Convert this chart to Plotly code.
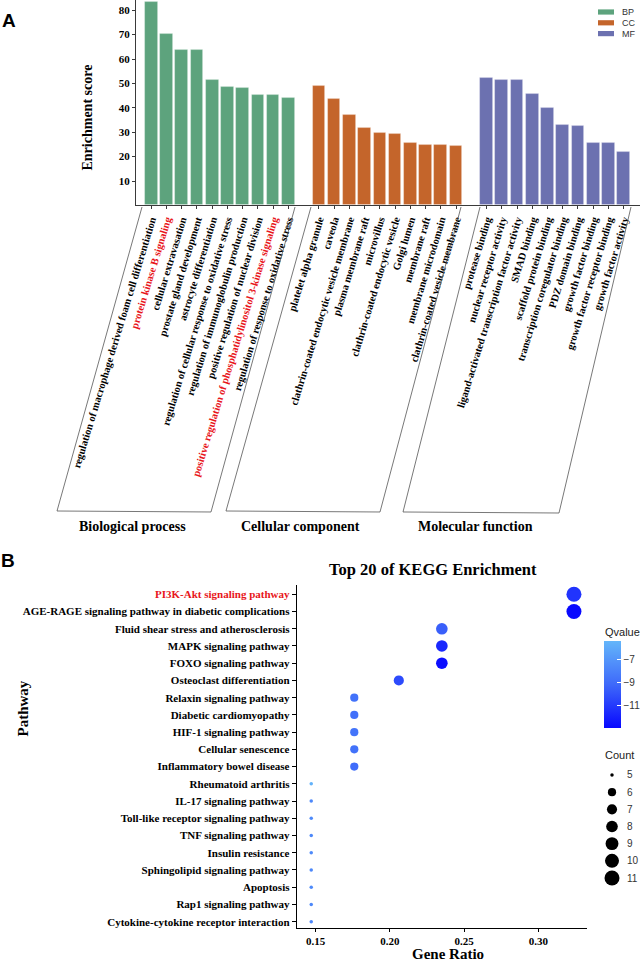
import math
import plotly.graph_objects as go

W, H = 643, 961

# ---------------- Panel A data ----------------
bp_terms = ["regulation of macrophage derived foam cell differentiation",
            "protein kinase B signaling",
            "cellular extravasation",
            "prostate gland development",
            "astrocyte differentiation",
            "regulation of cellular response to oxidative stress",
            "regulation of immunoglobulin production",
            "positive regulation of nuclear division",
            "positive regulation of phosphatidylinositol 3-kinase signaling",
            "regulation of response to oxidative stress"]
bp_scores = [83.4, 70.3, 63.6, 63.6, 51.3, 48.4, 48.1, 45.3, 45.1, 44.2]

cc_terms = ["platelet alpha granule", "caveola",
            "clathrin-coated endocytic vesicle membrane",
            "plasma membrane raft", "microvillus",
            "clathrin-coated endocytic vesicle", "Golgi lumen",
            "membrane raft", "membrane microdomain",
            "clathrin-coated vesicle membrane"]
cc_scores = [49.0, 43.5, 37.1, 31.6, 29.7, 29.3, 25.7, 24.6, 24.6, 24.2]

mf_terms = ["protease binding", "nuclear receptor activity",
            "ligand-activated transcription factor activity", "SMAD binding",
            "scaffold protein binding", "transcription coregulator binding",
            "PDZ domain binding", "growth factor binding",
            "growth factor receptor binding", "growth factor activity"]
mf_scores = [52.4, 51.4, 51.4, 45.7, 39.9, 33.0, 32.6, 25.6, 25.6, 22.0]

highlight_terms = ["protein kinase B signaling",
                   "positive regulation of phosphatidylinositol 3-kinase signaling"]

groups = ["BP", "CC", "MF"]
group_names = ["Biological process", "Cellular component", "Molecular function"]
group_colors = ["#5DA37D", "#C4652B", "#6C71B0"]
y_ticks_a = [10, 20, 30, 40, 50, 60, 70, 80]

# ---------------- Panel B data ----------------
pathways = ["PI3K-Akt signaling pathway",
            "AGE-RAGE signaling pathway in diabetic complications",
            "Fluid shear stress and atherosclerosis",
            "MAPK signaling pathway",
            "FOXO signaling pathway",
            "Osteoclast differentiation",
            "Relaxin signaling pathway",
            "Diabetic cardiomyopathy",
            "HIF-1 signaling pathway",
            "Cellular senescence",
            "Inflammatory bowel disease",
            "Rheumatoid arthritis",
            "IL-17 signaling pathway",
            "Toll-like receptor signaling pathway",
            "TNF signaling pathway",
            "Insulin resistance",
            "Sphingolipid signaling pathway",
            "Apoptosis",
            "Rap1 signaling pathway",
            "Cytokine-cytokine receptor interaction"]
gene_ratio = [0.324, 0.324, 0.235, 0.235, 0.235, 0.206, 0.176, 0.176, 0.176,
              0.176, 0.176, 0.147, 0.147, 0.147, 0.147, 0.147, 0.147, 0.147,
              0.147, 0.147]
counts = [11, 11, 8, 8, 8, 7, 6, 6, 6, 6, 6, 5, 5, 5, 5, 5, 5, 5, 5, 5]
qvalue = [-11.3, -13.0, -9.6, -11.8, -12.8, -10.4, -8.8, -8.9, -8.7, -8.8,
          -9.1, -5.6, -7.7, -7.6, -7.7, -7.6, -7.7, -7.6, -7.7, -7.8]
highlight_path = "PI3K-Akt signaling pathway"
x_ticks_b = [0.15, 0.20, 0.25, 0.30]
q_ticks = [-7, -9, -11]
legend_counts = [5, 6, 7, 8, 9, 10, 11]


def px(x, y):
    return x / W, 1 - y / H


def dot_size(c):
    return 3.5 + 11.5 * math.sqrt((c - 5) / 6)


serif = "Liberation Serif"
sans = "Liberation Sans"

fig = go.Figure()

# ---- bars ----
all_pos, all_text = [], []
for g, (terms, scores, col) in enumerate(zip([bp_terms, cc_terms, mf_terms],
                                            [bp_scores, cc_scores, mf_scores],
                                            group_colors)):
    pos = [g * 11 + i for i in range(len(terms))]
    fig.add_trace(go.Bar(x=pos, y=scores, width=0.83, marker_color=col,
                         marker_line=dict(color="rgba(255,255,255,0.35)", width=0.8),
                         name=groups[g], showlegend=False,
                         xaxis="x", yaxis="y"))
    all_pos += pos
    for t in terms:
        if t in highlight_terms:
            all_text.append('<span style="color:#E8151B">%s</span>' % t)
        else:
            all_text.append(t)

# ---- KEGG dots ----
fig.add_trace(go.Scatter(
    x=gene_ratio, y=pathways, mode="markers", xaxis="x2", yaxis="y2",
    showlegend=False,
    marker=dict(size=[dot_size(c) for c in counts], color=qvalue,
                cmin=-13.05, cmax=-5.4, opacity=1,
                colorscale=[[0, "rgb(8,8,255)"], [0.5, "rgb(62,105,250)"],
                            [1, "rgb(100,182,250)"]],
                line=dict(width=0),
                colorbar=dict(
                    x=604 / W, xanchor="left", xpad=0, ypad=0,
                    y=1 - 685 / H, yanchor="middle",
                    thickness=17, thicknessmode="pixels",
                    len=87, lenmode="pixels", outlinewidth=0,
                    tickvals=q_ticks, ticktext=["\u22127", "\u22129", "\u221211"],
                    ticks="inside", ticklen=4, tickcolor="white",
                    tickfont=dict(family=sans, size=10, color="#333")))))

# ---- Count legend ----
fig.add_trace(go.Scatter(
    x=[0] * len(legend_counts), y=legend_counts, mode="markers",
    xaxis="x3", yaxis="y3", showlegend=False, hoverinfo="skip",
    marker=dict(size=[dot_size(c) for c in legend_counts], color="#000000",
                opacity=1, line=dict(width=0))))

ax_line = "#3a3a3a"
tf_a = dict(family=serif, size=10.5, color="black", weight="bold")

layout = dict(
    width=W, height=H, margin=dict(l=0, r=0, t=0, b=0, autoexpand=False),
    paper_bgcolor="white", plot_bgcolor="white", bargap=0,
    xaxis=dict(domain=[136 / W, 640 / W], range=[-1.0, 32.07],
               tickvals=all_pos, ticktext=all_text, tickangle=-73,
               ticks="outside", ticklen=3, tickcolor=ax_line,
               showline=True, linecolor=ax_line, linewidth=1,
               showgrid=False, zeroline=False, tickfont=tf_a,
               anchor="y", automargin=False),
    yaxis=dict(domain=[1 - 205.4 / H, 1], range=[0, 84.2],
               tickvals=y_ticks_a, ticks="outside", ticklen=3,
               tickcolor=ax_line, showline=True, linecolor=ax_line,
               linewidth=1, showgrid=False, zeroline=False,
               tickfont=dict(family=serif, size=11, color="black", weight="bold"),
               anchor="x", automargin=False),
    xaxis2=dict(domain=[296.7 / W, 586.7 / W], range=[0.1372, 0.3326],
                tickvals=x_ticks_b, ticktext=["%.2f" % v for v in x_ticks_b],
                ticks="outside", ticklen=3, tickcolor="black",
                showline=True, linecolor="black", linewidth=1,
                showgrid=False, zeroline=False,
                tickfont=dict(family=serif, size=11, color="black", weight="bold"),
                anchor="y2", automargin=False),
    yaxis2=dict(domain=[1 - 927.7 / H, 1 - 585 / H],
                type="category", categoryorder="array",
                categoryarray=pathways[::-1], range=[-0.35, 19.54],
                tickvals=pathways,
                ticktext=[('<span style="color:#E8151B">%s</span>' % p)
                          if p == highlight_path else p for p in pathways],
                ticks="outside", ticklen=4, tickcolor="black",
                showline=True, linecolor="black", linewidth=1,
                showgrid=False, zeroline=False,
                tickfont=dict(family=serif, size=11, color="black", weight="bold"),
                anchor="x2", automargin=False),
    xaxis3=dict(domain=[602 / W, 626 / W], range=[-1, 1.4], visible=False,
                anchor="y3", automargin=False),
    yaxis3=dict(domain=[1 - 886.6 / H, 1 - 766.4 / H], range=[11.5, 4.5],
                side="right", anchor="x3", showline=False, showgrid=False,
                zeroline=False, ticks="", tickvals=legend_counts,
                tickfont=dict(family=sans, size=10, color="#333"),
                automargin=False),
)
fig.update_layout(**layout)

# ---- boxes around GO term labels ----
boxes = [[(142, 207), (57, 511), (211, 512), (295, 207)],
         [(311, 207), (226, 511), (380, 512), (461, 207)],
         [(480, 207), (403, 512), (559, 513), (631, 207)]]
for b in boxes:
    pts = [px(*p) for p in b]
    path = "M %f,%f L %f,%f L %f,%f L %f,%f" % (pts[0] + pts[1] + pts[2] + pts[3])
    fig.add_shape(type="path", path=path, xref="paper", yref="paper",
                  line=dict(color="#555", width=0.8))

# group names
for name, cx in zip(group_names, [132.5, 300.5, 475.7]):
    x, y = px(cx, 526)
    fig.add_annotation(x=x, y=y, xref="paper", yref="paper", text=name,
                       showarrow=False, xanchor="center", yanchor="middle",
                       font=dict(family=serif, size=14, color="black", weight="bold"))

# legend A (manual)
for i, (g, col) in enumerate(zip(groups, group_colors)):
    yc = 12 + 10.8 * i
    x0, y0 = px(598, yc - 2.6)
    x1, y1 = px(614, yc + 2.6)
    fig.add_shape(type="rect", x0=x0, x1=x1, y0=y1, y1=y0, xref="paper",
                  yref="paper", fillcolor=col, line=dict(width=0))
    x, y = px(620, yc)
    fig.add_annotation(x=x, y=y, xref="paper", yref="paper", text=g,
                       showarrow=False, xanchor="left", yanchor="middle",
                       font=dict(family=sans, size=9, color="#333"))

# axis titles & panel labels
def ann(text, cx, cy, font, angle=0, xanchor="center"):
    x, y = px(cx, cy)
    fig.add_annotation(x=x, y=y, xref="paper", yref="paper", text=text,
                       showarrow=False, xanchor=xanchor, yanchor="middle",
                       textangle=angle, font=font)

ann("Enrichment score", 87, 117.5,
    dict(family=serif, size=14, color="black", weight="bold"), angle=-90)
ann("Pathway", 22.5, 709,
    dict(family=serif, size=15, color="black", weight="bold"), angle=-90)
ann("Gene Ratio", 447.5, 954,
    dict(family=serif, size=15, color="black", weight="bold"))
ann("Top 20 of KEGG Enrichment", 433, 569,
    dict(family=serif, size=16.5, color="black", weight="bold"))
ann("A", 8.5, 20, dict(family=sans, size=19, color="black", weight="bold"))
ann("B", 7.5, 560, dict(family=sans, size=19, color="black", weight="bold"))
ann("Qvalue", 603, 632, dict(family=sans, size=11, color="#222"), xanchor="left")
ann("Count", 603, 755, dict(family=sans, size=11, color="#222"), xanchor="left")

fig.write_html("out.html", config={"displayModeBar": False},
               post_script="document.body.style.margin='0';"
                           "document.body.style.overflow='hidden';")
